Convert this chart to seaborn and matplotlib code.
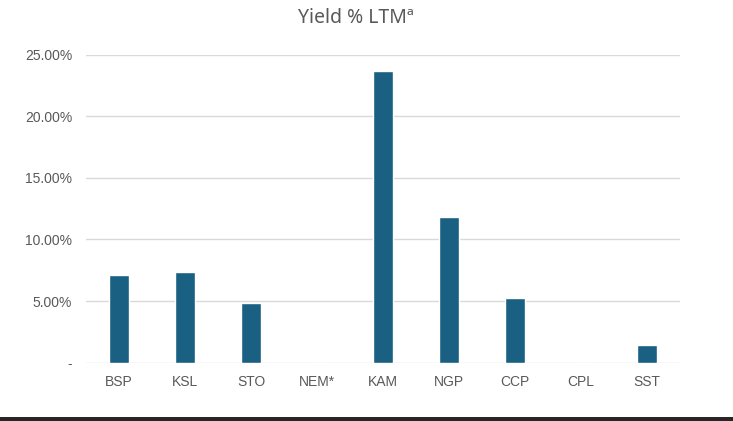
import matplotlib
matplotlib.use("Agg")
import matplotlib.pyplot as plt
import matplotlib.ticker as mticker
from matplotlib.patches import Rectangle
import seaborn as sns
import pandas as pd

categories = ["BSP", "KSL", "STO", "NEM*", "KAM", "NGP", "CCP", "CPL", "SST"]
yield_ltm = [0.0709, 0.0739, 0.0485, 0.0, 0.2368, 0.1183, 0.0523, 0.0, 0.0141]
title_text = "Yield % LTMª"

df = pd.DataFrame({"company": categories, "yield": yield_ltm})

sns.set_theme(style="white")
plt.rcParams['font.family'] = ['Liberation Sans', 'DejaVu Sans']

fig = plt.figure(figsize=(7.33, 4.21), dpi=100)
ax = fig.add_axes([86/733, 1-362.7/421, (680-86)/733, (362.7-54.7)/421])

sns.barplot(data=df, x="company", y="yield", color="#1a6082", width=0.31,
            saturation=1, ax=ax, zorder=3)

ax.set_ylim(0, 0.25)
ax.set_xlim(-0.5, len(categories) - 0.5)
ax.yaxis.set_major_locator(mticker.MultipleLocator(0.05))
ax.yaxis.set_major_formatter(mticker.FuncFormatter(
    lambda v, p: "-" if abs(v) < 1e-9 else f"{v*100:.2f}%"))
ax.grid(axis="y", color="#d9d9d9", linewidth=1.0, zorder=0)
ax.grid(axis="x", visible=False)
for s in ax.spines.values():
    s.set_visible(False)
ax.tick_params(axis="both", length=0, labelsize=10, labelcolor="#595959")
ax.tick_params(axis="y", pad=10)
ax.tick_params(axis="x", pad=9)
ax.set_xlabel("")
ax.set_ylabel("")

fig.text(356/733, 1-18/421, title_text, ha="center", va="center",
         fontsize=14, color="#595959", family=["Noto Sans", "DejaVu Sans"])

fig.patches.append(Rectangle((0, 0), 1, 4.5/421, transform=fig.transFigure,
                             facecolor="#262626", edgecolor="none", zorder=10))

fig.savefig("out.png", dpi=100, facecolor="white")
